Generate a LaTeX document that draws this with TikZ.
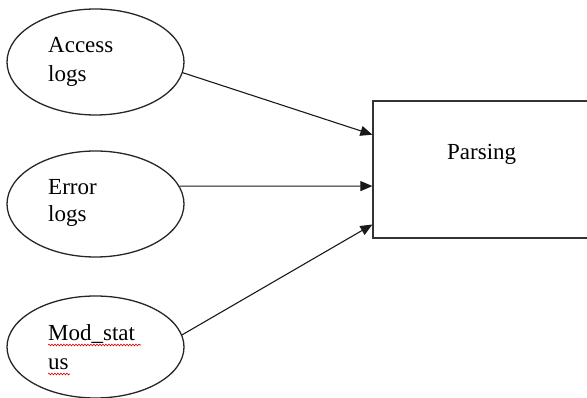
\documentclass[tikz,border=0pt]{standalone}
\usepackage{fontspec}
\setmainfont{Liberation Serif}
\usetikzlibrary{shapes.geometric,arrows.meta,decorations.pathmorphing,calc}
\begin{document}
\begin{tikzpicture}[x=1pt,y=-1pt,
  src/.style={ellipse,draw=black!85,line width=1.3pt,minimum width=177pt,minimum height=106pt,inner sep=0pt},
  lbl/.style={anchor=base west,inner sep=0pt,font=\fontsize{23}{28}\selectfont},
  conn/.style={draw=black!90,line width=1.1pt,-{Triangle[length=12pt,width=10pt]}},
  squig/.style={red!85!black,line width=0.6pt,decorate,decoration={snake,amplitude=0.9pt,segment length=3pt}}]
\useasboundingbox (0,0) rectangle (587,398);
\node[src] (acc) at (95.5,62) {};
\node[src] (err) at (95.5,204) {};
\node[src,minimum height=102pt] (mod) at (95.5,347) {};
\node[draw=black!80,line width=1.2pt,minimum width=227pt,minimum height=137pt,inner sep=0pt] (parse) at (486.5,169.5) {};
\node[lbl] (acc1) at (48,53) {Access};
\node[lbl] (acc2) at (48,82) {logs};
\node[lbl] (err1) at (48,195) {Error};
\node[lbl] (err2) at (48,222) {logs};
\node[lbl] (mod1) at (48,341) {Mod\_stat};
\node[lbl] (mod2) at (48,370) {us};
\node[lbl] (pl) at (447,160) {Parsing};
\draw[squig] (48,345) -- (141,345);
\draw[squig] (48,374) -- (70,374);
\draw[conn] (acc.-7) -- ($(parse.north west)!0.248!(parse.south west)$);
\draw[conn] (err.12) -- ($(parse.north west)!0.62!(parse.south west)$);
\draw[conn] (mod.8) -- ($(parse.north west)!0.898!(parse.south west)$);
\end{tikzpicture}
\end{document}
